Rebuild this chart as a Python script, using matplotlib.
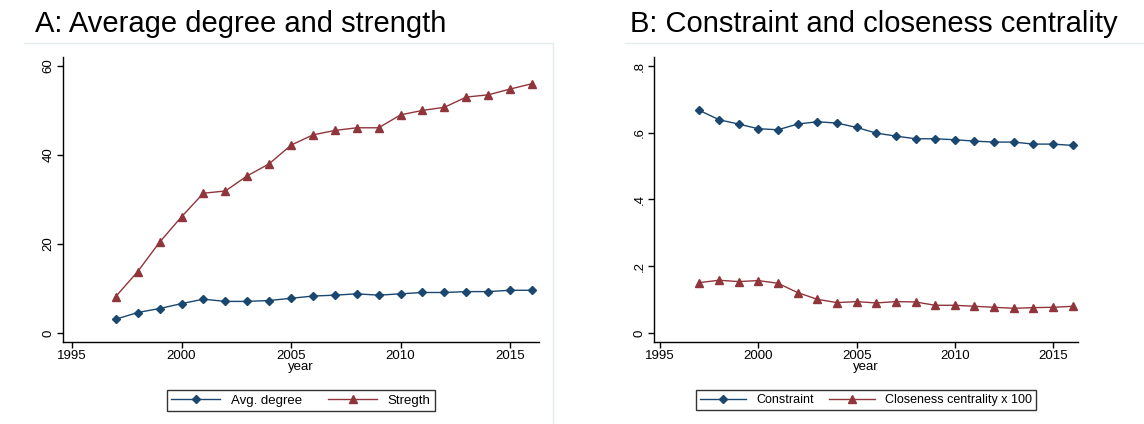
import numpy as np
import matplotlib
matplotlib.use("Agg")
import matplotlib.pyplot as plt
from matplotlib.lines import Line2D

plt.rcParams['font.family'] = ['Liberation Sans', 'DejaVu Sans']

years = list(range(1997, 2017))

avg_degree = [3.1, 4.6, 5.5, 6.6, 7.6, 7.1, 7.1, 7.3, 7.8, 8.3,
              8.5, 8.8, 8.5, 8.8, 9.1, 9.1, 9.3, 9.3, 9.6, 9.6]
strength = [8.2, 13.8, 20.4, 26.1, 31.4, 31.9, 35.3, 38.0, 42.2, 44.5,
            45.5, 46.1, 46.1, 49.0, 50.0, 50.7, 53.0, 53.5, 54.8, 56.0]

constraint = [0.667, 0.639, 0.626, 0.612, 0.609, 0.626, 0.633, 0.629, 0.616, 0.599,
              0.590, 0.582, 0.582, 0.579, 0.575, 0.572, 0.572, 0.566, 0.566, 0.562]
closeness = [0.151, 0.158, 0.154, 0.157, 0.149, 0.121, 0.101, 0.091, 0.094, 0.090,
             0.094, 0.093, 0.083, 0.083, 0.080, 0.077, 0.074, 0.076, 0.077, 0.080]

xticks = [1995, 2000, 2005, 2010, 2015]
yticks_a = [0, 20, 40, 60]
yticks_b = [0, 0.2, 0.4, 0.6, 0.8]
ylabels_b = ["0", ".2", ".4", ".6", ".8"]

navy = "#1a476f"
maroon = "#90353b"
frame = "#e3ebee"

W, H = 1144, 424
fig = plt.figure(figsize=(W / 100, H / 100), dpi=100)


def px_axes(l, r, t, b):
    return fig.add_axes([l / W, 1 - b / H, (r - l) / W, (b - t) / H])


def style(ax):
    for s in ["top", "right"]:
        ax.spines[s].set_visible(False)
    for s in ["left", "bottom"]:
        ax.spines[s].set_linewidth(1.0)
    ax.tick_params(direction="out", length=4, width=1, labelsize=9.5, pad=2)
    ax.set_xticks(xticks)
    ax.set_xlabel("year", fontsize=9.5, labelpad=-1)
    for lab in ax.get_yticklabels():
        lab.set_rotation(90)
        lab.set_va("center")


def legend(ax, labels, fs, colsp):
    h = [Line2D([], [], color=navy, lw=1, marker="D", ms=4),
         Line2D([], [], color=maroon, lw=1, marker="^", ms=6)]
    leg = ax.legend(h, labels, loc="upper center", bbox_to_anchor=(0.5, -0.145),
                    ncol=2, frameon=True, fancybox=False, fontsize=fs,
                    handlelength=3.7, columnspacing=colsp, borderpad=0.35,
                    handletextpad=0.8, edgecolor="black")
    leg.get_frame().set_linewidth(1.0)


# panel A
axa = px_axes(63, 539, 57, 342)
axa.plot(years, avg_degree, color=navy, lw=1, marker="D", ms=4)
axa.plot(years, strength, color=maroon, lw=1, marker="^", ms=6)
axa.set_xlim(1994.59, 2016.32)
axa.set_ylim(-2.02, 62.0)
axa.set_yticks(yticks_a)
style(axa)
legend(axa, ["Avg. degree", "Stregth"], 9.5, 2.0)

# panel B
axb = px_axes(654, 1078, 57, 342)
axb.plot(years, constraint, color=navy, lw=1, marker="D", ms=4)
axb.plot(years, closeness, color=maroon, lw=1, marker="^", ms=6)
axb.set_xlim(1994.69, 2016.27)
axb.set_ylim(-0.027, 0.827)
axb.set_yticks(yticks_b)
axb.set_yticklabels(ylabels_b)
style(axb)
legend(axb, ["Constraint", "Closeness centrality x 100"], 9.0, 1.2)

# titles and light frames
fig.text(35 / W, 1 - 32 / H, "A: Average degree and strength", fontsize=21, va="baseline")
fig.text(630 / W, 1 - 32 / H, "B: Constraint and closeness centrality", fontsize=21, va="baseline")
fig.add_artist(Line2D([24 / W, 553 / W], [1 - 42.5 / H, 1 - 42.5 / H], color=frame, lw=1))
fig.add_artist(Line2D([553 / W, 553 / W], [1 - 42.5 / H, 0], color=frame, lw=1))
fig.add_artist(Line2D([625 / W, 1], [1 - 42.5 / H, 1 - 42.5 / H], color=frame, lw=1))

fig.savefig("out.png", dpi=100)
